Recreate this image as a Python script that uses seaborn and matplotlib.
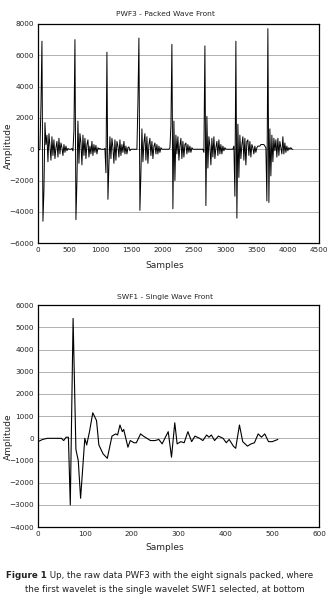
import numpy as np
import pandas as pd
import matplotlib
matplotlib.use("Agg")
import matplotlib.pyplot as plt
import seaborn as sns

# PWF3: eight wavelets of 512 samples, one value every 16 samples
passo = 16
onda1 = [-100, -50, 0, 2800, 6900, -4600, -2600, 1700, 300, 900, -800, 1000, 200, -700, 800, -400,
         600, -600, 100, 500, -500, 700, -300, 400, 100, -400, 300, -200, 200, -100, 50, 0]
onda2 = [0, 0, 50, -100, 1200, 7000, -4500, -2000, 1800, -900, 1000, 400, -1000, 900, -400, 700,
         -600, 300, 600, -500, 200, -300, 500, -400, 300, -200, 250, -300, 100, 0, 50, 0]
onda3 = [0, 0, 0, 50, -1500, 6200, -3200, -1000, 800, -600, 700, 100, -900, 600, -700, 500,
         200, -500, 600, -400, 300, -200, 500, -300, 200, -300, 100, 150, -100, 0, 0, 0]
onda4 = [0, 0, 0, 0, 3000, 7100, -3900, -1500, 1300, -800, 400, 1000, -700, 800, -900, 300,
         700, -400, 500, -600, 200, 400, -300, 300, -300, 200, -200, 100, 0, 0, 0, 0]
onda5 = [0, 0, 0, 0, 100, 1500, 6700, -3800, 1800, -2000, 900, -300, 800, -700, 200, 700,
         -600, 500, -500, 300, 400, -300, 300, -200, 200, -200, 100, 0, 0, 0, 0, 0]
onda6 = [0, 0, 0, 0, 0, 0, -200, 6600, -3600, 2100, -1200, 800, 200, -1000, 700, -500,
         800, -600, 100, 500, -400, 600, -300, 300, -300, 200, -100, 100, 0, 0, 0, 0]
onda7 = [0, 0, 0, 0, 200, -3000, 6900, -4400, 1600, -1800, 900, -600, 300, 800, -700, 700,
         -1000, 500, 600, -400, 500, -500, 300, 100, -300, 200, -200, 100, 200, 200, 200, 300]
onda8 = [300, 300, 300, 200, 100, -3300, 7700, -3400, 1300, -1700, 900, -800, 700, -100, 600, -500,
         700, -400, 500, 100, -300, 800, -300, 400, -200, 200, -100, 100, 0, 100, 0, 0]

# SWF1: single wavelet
swf1_x = [0, 10, 20, 30, 40, 50, 55, 60, 65, 69, 75, 81, 86, 91, 100, 104, 110, 117, 125, 130,
          139, 148, 158, 166, 170, 175, 180, 183, 192, 197, 205, 210, 219, 225, 240, 250, 258,
          265, 272, 278, 285, 292, 297, 305, 312, 320, 328, 335, 345, 352, 360, 365, 370, 377,
          385, 395, 402, 408, 417, 422, 430, 437, 447, 455, 462, 470, 477, 484, 492, 500, 512]
swf1_y = [-150, -50, 0, 0, 0, 0, -100, 50, 50, -3000, 5400, -500, -1000, -2700, 0, -300, 300,
          1150, 800, -300, -700, -900, 100, 200, 150, 600, 300, 400, -400, -100, -200, -200,
          200, 100, -100, -100, -50, -250, 50, 300, -850, 700, -250, -150, -200, 300, -150, 100,
          0, -100, 150, 50, 150, -100, 100, 0, -200, -50, -350, -450, 600, -150, -350, -250,
          -200, 200, 50, 200, -150, -150, -50]

pwf3 = onda1 + onda2 + onda3 + onda4 + onda5 + onda6 + onda7 + onda8
df_top = pd.DataFrame({"Samples": np.arange(len(pwf3)) * passo, "Amplitude": pwf3})
df_bot = pd.DataFrame({"Samples": swf1_x, "Amplitude": swf1_y})

sns.set_theme(style="white")
plt.rcParams["font.family"] = ["DejaVu Sans"]

fig = plt.figure(figsize=(3.30, 5.99), dpi=100)
ax1 = fig.add_axes([0.115, 0.594, 0.852, 0.366])
ax2 = fig.add_axes([0.115, 0.120, 0.852, 0.3706])


def estilo(ax, xlim, xstep, ylim, ystep):
    ax.set_xlim(*xlim)
    ax.set_ylim(*ylim)
    ax.set_xticks(np.arange(xlim[0], xlim[1] + 1, xstep))
    ax.set_yticks(np.arange(ylim[0], ylim[1] + 1, ystep))
    ax.yaxis.grid(True, color="#b0b0b0", linewidth=0.7)
    ax.xaxis.grid(False)
    ax.set_axisbelow(True)
    for s in ax.spines.values():
        s.set_color("black")
        s.set_linewidth(0.9)
    ax.tick_params(axis="both", length=0, pad=3, labelsize=5.2, colors="#222222")
    ax.set_xlabel("")
    ax.set_ylabel("")


sns.lineplot(data=df_top, x="Samples", y="Amplitude", ax=ax1, color="black",
             linewidth=0.7, estimator=None, sort=False)
estilo(ax1, (0, 4500), 500, (-6000, 8000), 2000)

sns.lineplot(data=df_bot, x="Samples", y="Amplitude", ax=ax2, color="black",
             linewidth=0.8, estimator=None, sort=False)
estilo(ax2, (0, 600), 100, (-4000, 6000), 1000)

# titulos e rotulos
fig.text(0.5, 1 - 14 / 599, "PWF3 - Packed Wave Front", ha="center", va="center", fontsize=5.4)
fig.text(0.5, 1 - 297 / 599, "SWF1 - Single Wave Front", ha="center", va="center", fontsize=5.4)
fig.text(0.5, 1 - 266 / 599, "Samples", ha="center", va="center", fontsize=6.5)
fig.text(0.5, 1 - 548 / 599, "Samples", ha="center", va="center", fontsize=6.5)
fig.text(8 / 330, 1 - 146 / 599, "Amplitude", ha="center", va="center", rotation=90, fontsize=6.5)
fig.text(8 / 330, 1 - 437 / 599, "Amplitude", ha="center", va="center", rotation=90, fontsize=6.5)

# legenda da figura
tam = 6.3
t = fig.text(6 / 330, 1 - 576 / 599, "Figure 1", ha="left", va="center", fontsize=tam,
             fontweight="bold", color="#222222")
plt.annotate(" Up, the raw data PWF3 with the eight signals packed, where",
             xy=(1, 0.5), xycoords=t, va="center", ha="left", fontsize=tam, color="#222222")
fig.text(0.5, 1 - 589 / 599, "the first wavelet is the single wavelet SWF1 selected, at bottom",
         ha="center", va="center", fontsize=tam, color="#222222")

fig.savefig("out.png", dpi=100, facecolor="white")
